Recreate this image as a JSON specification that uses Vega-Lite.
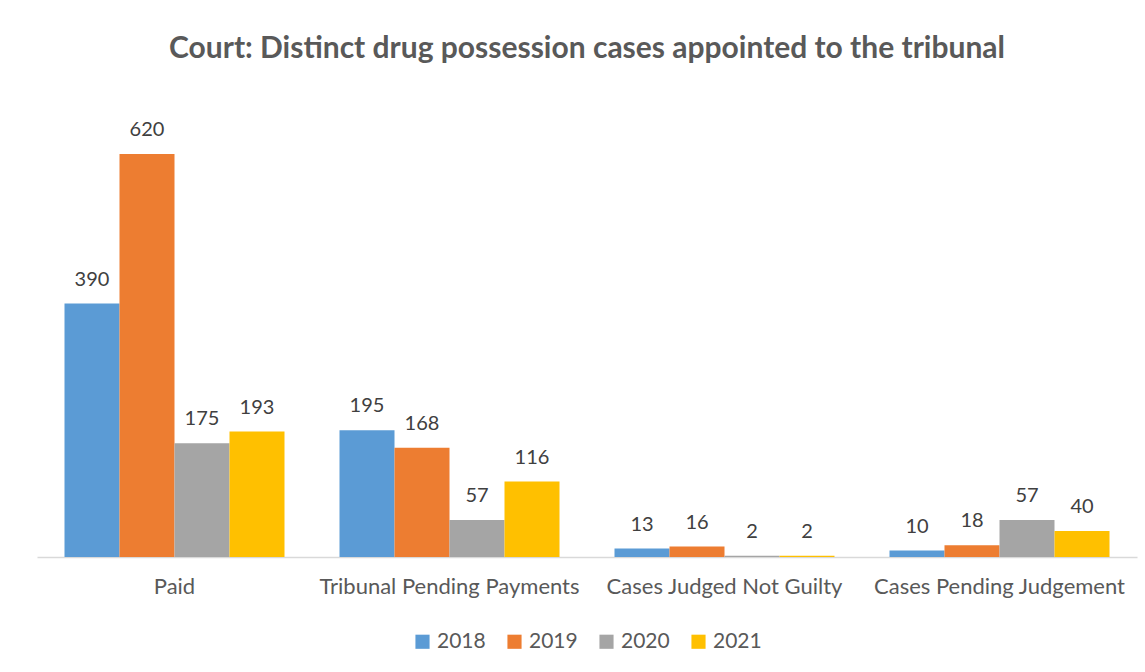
{
  "$schema": "https://vega.github.io/schema/vega-lite/v6.json",
  "width": 1100,
  "height": 455,
  "padding": {"left": 37, "top": 34, "right": 8, "bottom": 0},
  "autosize": {"type": "pad"},
  "background": "white",
  "title": {
    "text": "Court: Distinct drug possession cases appointed to the tribunal",
    "font": "Lato",
    "fontSize": 30,
    "fontWeight": "bold",
    "color": "#595959",
    "anchor": "middle",
    "offset": 38
  },
  "config": {
    "view": {"stroke": null},
    "font": "Lato",
    "legend": {"layout": {"bottom": {"anchor": "middle"}}}
  },
  "data": {
    "values": [
      {"category": "Paid", "year": "2018", "value": 390},
      {"category": "Paid", "year": "2019", "value": 620},
      {"category": "Paid", "year": "2020", "value": 175},
      {"category": "Paid", "year": "2021", "value": 193},
      {"category": "Tribunal Pending Payments", "year": "2018", "value": 195},
      {"category": "Tribunal Pending Payments", "year": "2019", "value": 168},
      {"category": "Tribunal Pending Payments", "year": "2020", "value": 57},
      {"category": "Tribunal Pending Payments", "year": "2021", "value": 116},
      {"category": "Cases Judged Not Guilty", "year": "2018", "value": 13},
      {"category": "Cases Judged Not Guilty", "year": "2019", "value": 16},
      {"category": "Cases Judged Not Guilty", "year": "2020", "value": 2},
      {"category": "Cases Judged Not Guilty", "year": "2021", "value": 2},
      {"category": "Cases Pending Judgement", "year": "2018", "value": 10},
      {"category": "Cases Pending Judgement", "year": "2019", "value": 18},
      {"category": "Cases Pending Judgement", "year": "2020", "value": 57},
      {"category": "Cases Pending Judgement", "year": "2021", "value": 40}
    ]
  },
  "encoding": {
    "x": {
      "field": "category",
      "type": "nominal",
      "sort": null,
      "scale": {"paddingInner": 0.2, "paddingOuter": 0.1},
      "axis": {
        "title": null,
        "labelAngle": 0,
        "labelLimit": 0,
        "labelFont": "Lato",
        "labelFontSize": 22,
        "labelColor": "#595959",
        "labelPadding": 19,
        "ticks": false,
        "domainColor": "#d9d9d9",
        "domainWidth": 1.5
      }
    },
    "xOffset": {"field": "year", "type": "nominal", "scale": {"paddingInner": 0, "paddingOuter": 0}},
    "y": {
      "field": "value",
      "type": "quantitative",
      "scale": {"domain": [0, 700], "nice": false},
      "axis": null
    }
  },
  "layer": [
    {
      "mark": {"type": "bar"},
      "encoding": {
        "color": {
          "field": "year",
          "type": "nominal",
          "scale": {"domain": ["2018", "2019", "2020", "2021"], "range": ["#5B9BD5", "#ED7D31", "#A5A5A5", "#FFC000"]},
          "legend": {
            "title": null,
            "orient": "bottom",
            "direction": "horizontal",
            "symbolType": "square",
            "symbolSize": 200,
            "symbolStrokeWidth": 0,
            "labelFont": "Lato",
            "labelFontSize": 21,
            "labelColor": "#595959",
            "columnPadding": 18,
            "offset": 34
          }
        }
      }
    },
    {
      "mark": {"type": "text", "dy": -14, "baseline": "bottom", "fontSize": 20, "font": "Lato", "color": "#404040"},
      "encoding": {
        "text": {"field": "value", "type": "quantitative"}
      }
    }
  ]
}
